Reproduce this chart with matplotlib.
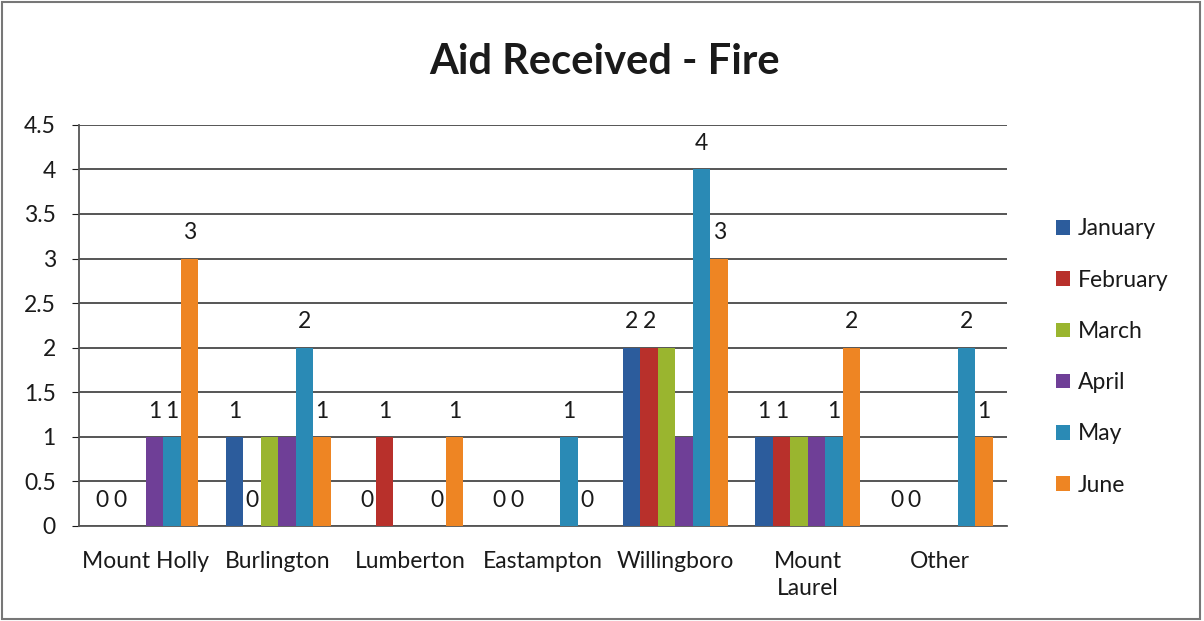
import numpy as np
import matplotlib.pyplot as plt
from matplotlib.patches import Rectangle

categories = ['Mount Holly', 'Burlington', 'Lumberton', 'Eastampton',
              'Willingboro', 'Mount\nLaurel', 'Other']
months = ['January', 'February', 'March', 'April', 'May', 'June']

january = [0, 1, 0, 0, 2, 1, 0]
february = [0, 0, 1, 0, 2, 1, 0]
march = [None, 1, None, None, 2, 1, None]
april = [1, 1, None, None, 1, 1, None]
may = [1, 2, 0, 1, 4, 1, 2]
june = [3, 1, 1, 0, 3, 2, 1]

# which bars carry a data label in the original
show_jan = [1, 1, 1, 1, 1, 1, 1]
show_feb = [1, 1, 1, 1, 1, 1, 1]
show_mar = [0, 0, 0, 0, 0, 0, 0]
show_apr = [1, 0, 0, 0, 0, 0, 0]
show_may = [1, 1, 1, 1, 1, 1, 1]
show_jun = [1, 1, 1, 1, 1, 1, 1]

colors = ['#2c5c9c', '#b8302b', '#9ab52f', '#6f3f97', '#2a8ab5', '#ee8523']

series = [january, february, march, april, may, june]
shows = [show_jan, show_feb, show_mar, show_apr, show_may, show_jun]

plt.rcParams['font.family'] = ['Lato', 'DejaVu Sans']
txt = '#1a1a1a'
fs = 16.5

fig = plt.figure(figsize=(12.04, 6.21), dpi=100)
ax = fig.add_axes([0.066, 0.153, 0.770, 0.646])

x = np.arange(len(categories))
w = 0.132
for i, (vals, show, c, m) in enumerate(zip(series, shows, colors, months)):
    v = np.array([np.nan if a is None else a for a in vals], dtype=float)
    pos = x + (i - 2.5) * w
    ax.bar(pos, v, width=w, color=c, label=m, zorder=3)
    for p, val, s in zip(pos, v, show):
        if s and not np.isnan(val):
            ax.annotate(f'{int(val)}', (p, val), xytext=(0, 11),
                        textcoords='offset points', ha='center', va='bottom',
                        fontsize=fs, color=txt)

ax.set_xlim(-0.5, len(categories) - 0.5)
ax.set_ylim(0, 4.5)
ax.set_yticks(np.arange(0, 4.51, 0.5))
ax.set_yticklabels(['0', '0.5', '1', '1.5', '2', '2.5', '3', '3.5', '4', '4.5'])
ax.set_xticks(x)
ax.set_xticklabels(categories, linespacing=1.35)
ax.tick_params(axis='x', length=0, labelsize=fs, pad=18, colors=txt)
ax.tick_params(axis='y', length=5, labelsize=fs, pad=12, colors=txt)
ax.yaxis.grid(True, color='#555555', linewidth=1.4, zorder=0)
for s in ['top', 'right']:
    ax.spines[s].set_visible(False)
ax.spines['left'].set_color('#555555')
ax.spines['bottom'].set_color('#555555')
ax.spines['left'].set_linewidth(1.3)
ax.spines['bottom'].set_linewidth(1.3)

fig.text(0.502, 0.9, 'Aid Received - Fire', ha='center', va='center',
         fontsize=30, fontweight='bold', color=txt)

ax.legend(loc='center left', bbox_to_anchor=(0.860, 0.425),
          bbox_transform=fig.transFigure, frameon=False, fontsize=fs,
          handlelength=0.6, handleheight=0.6, handletextpad=0.35,
          labelspacing=1.32, labelcolor=txt)

fig.patches.append(Rectangle((0.002, 0.004), 0.995, 0.992, transform=fig.transFigure,
                             fill=False, edgecolor='#777777', linewidth=1.5))

fig.savefig('out.png', dpi=100)
